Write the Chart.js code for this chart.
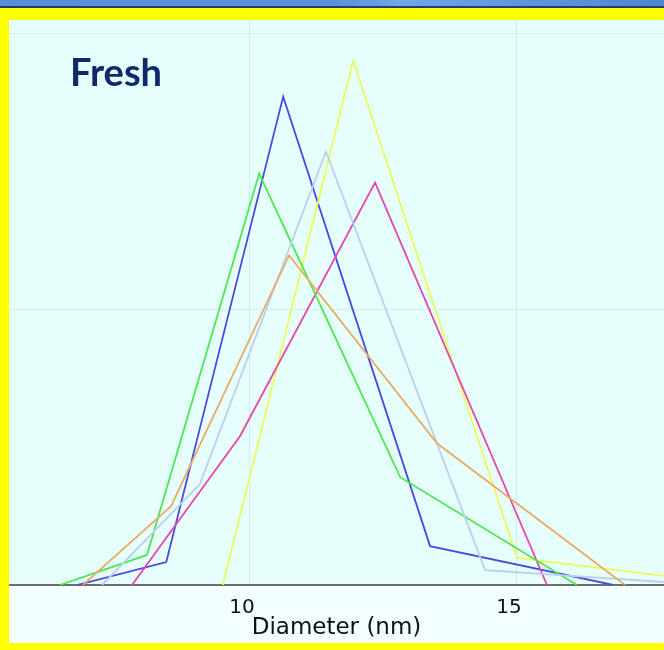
<!DOCTYPE html>
<html>
<head>
<meta charset="utf-8">
<script src="https://cdn.jsdelivr.net/npm/chart.js@4/dist/chart.umd.min.js"></script>
<style>
  html, body { margin: 0; padding: 0; }
  body { width: 664px; height: 650px; background: #ffff00; position: relative; overflow: hidden; }
  #band { position: absolute; left: 0; top: 0; width: 664px; height: 6px;
          background: linear-gradient(90deg, #5a8fd8 0%, #5b90d9 50%, #6fa6e6 60%, #4f86d0 100%); }
  #bandline { position: absolute; left: 0; top: 6px; width: 664px; height: 1.5px; background: #1f3d78; }
  #wrap { position: absolute; left: 9px; top: 20px; width: 655px; height: 623px; background: #f2fffe; }
</style>
</head>
<body>
<div id="band"></div>
<div id="bandline"></div>
<div id="wrap"><canvas id="c" width="655" height="623"></canvas></div>
<script>
// ---- data (diameter in nm, relative intensity) ----
const panelLabel = 'Fresh';
const xTitle = 'Diameter (nm)';
const xTicks = [10, 15];
const yGrid = [0, 10, 20];

const greenX   = [6.46, 8.09, 10.19, 12.83, 16.14];
const greenY   = [0, 1.09, 14.93, 3.91, 0];

const blueX    = [6.78, 8.45, 10.64, 13.39, 16.82];
const blueY    = [0, 0.83, 17.72, 1.41, 0];

const orangeX  = [6.89, 8.54, 10.75, 13.52, 17.04];
const orangeY  = [0, 2.86, 11.96, 5.14, 0];

const skyX     = [7.25, 9.08, 11.44, 14.42, 18.61];
const skyY     = [0, 3.66, 15.72, 0.54, 0];

const magentaX = [7.81, 9.83, 12.36, 15.58];
const magentaY = [0, 5.40, 14.60, 0];

const yellowX  = [9.51, 11.95, 15.02, 19.16];
const yellowY  = [0, 19.02, 0.98, 0];

function pts(xs, ys) { return xs.map((x, i) => ({ x: x, y: ys[i] })); }

const series = [
  { label: 'Run 1', xs: orangeX,  ys: orangeY,  color: 'rgb(232,172,104)' },
  { label: 'Run 2', xs: skyX,     ys: skyY,     color: 'rgb(184,208,238)' },
  { label: 'Run 3', xs: greenX,   ys: greenY,   color: 'rgb(76,232,84)' },
  { label: 'Run 4', xs: magentaX, ys: magentaY, color: 'rgb(228,72,172)' },
  { label: 'Run 5', xs: yellowX,  ys: yellowY,  color: 'rgb(236,255,88)' },
  { label: 'Run 6', xs: blueX,    ys: blueY,    color: 'rgb(72,72,222)' }
];

const bgPlugin = {
  id: 'plotBg',
  beforeDraw(chart) {
    const { ctx, chartArea } = chart;
    ctx.save();
    ctx.fillStyle = '#e6fefc';
    ctx.fillRect(chartArea.left, chartArea.top, chartArea.right - chartArea.left, chartArea.bottom - chartArea.top);
    ctx.restore();
  },
  afterDraw(chart) {
    const { ctx, chartArea } = chart;
    ctx.save();
    ctx.font = 'bold 38px Lato';
    ctx.fillStyle = '#0f2a6c';
    ctx.textBaseline = 'alphabetic';
    ctx.fillText(panelLabel, chartArea.left + 61, chartArea.top + 66);
    ctx.restore();
  }
};

new Chart(document.getElementById('c'), {
  type: 'line',
  data: {
    datasets: series.map(s => ({
      label: s.label,
      data: pts(s.xs, s.ys),
      borderColor: s.color,
      backgroundColor: s.color,
      borderWidth: 1.8,
      pointRadius: 0,
      tension: 0,
      fill: false
    }))
  },
  options: {
    responsive: false,
    animation: false,
    layout: { padding: { left: 0, right: 0, top: 0, bottom: 3 } },
    plugins: { legend: { display: false }, tooltip: { enabled: false }, title: { display: false } },
    scales: {
      x: {
        type: 'linear',
        min: 5.506,
        max: 17.77,
        afterBuildTicks: (scale) => { scale.ticks = xTicks.map(v => ({ value: v })); },
        grid: { color: 'rgba(160,205,205,0.35)', lineWidth: 1, drawTicks: false },
        border: { display: true, color: '#6e6e6e', width: 2 },
        ticks: {
          padding: 13,
          labelOffset: -7,
          color: '#111111',
          font: { family: 'DejaVu Sans', size: 20, lineHeight: 1 },
          callback: (v) => String(v)
        },
        title: {
          display: true,
          text: xTitle,
          color: '#111111',
          padding: { top: -14, bottom: 0 },
          font: { family: 'DejaVu Sans', size: 23, lineHeight: 1 }
        }
      },
      y: {
        type: 'linear',
        min: 0,
        max: 20.5,
        afterBuildTicks: (scale) => { scale.ticks = yGrid.map(v => ({ value: v })); },
        grid: { color: 'rgba(160,205,205,0.3)', lineWidth: 1, drawTicks: false },
        border: { display: false },
        ticks: { display: false }
      }
    }
  },
  plugins: [bgPlugin]
});
</script>
</body>
</html>
